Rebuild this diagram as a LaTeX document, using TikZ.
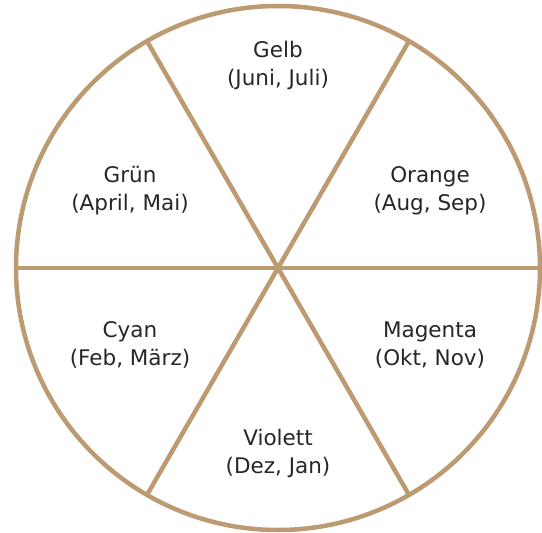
\documentclass[tikz,border=0pt]{standalone}
\usepackage{fontspec}
\setmainfont{DejaVu Sans}
\definecolor{rim}{HTML}{BC9A72}
\begin{document}
\begin{tikzpicture}[x=1pt,y=-1pt,
  rimline/.style={draw=rim,line width=4.5pt},
  lbl/.style={align=center,font=\fontsize{21.5}{28}\selectfont,text=black!85}]
\useasboundingbox (0,0) rectangle (542,533);
\coordinate (c) at (278,268);
\draw[rimline] (c) circle[radius=262];
\path (c) ++(0:262) coordinate (a0);
\path (c) ++(180:262) coordinate (a180);
\path (c) ++(60:262) coordinate (a60);
\path (c) ++(120:262) coordinate (a120);
\path (c) ++(240:262) coordinate (a240);
\path (c) ++(300:262) coordinate (a300);
\draw[rimline] (a0) -- (a180);
\draw[rimline] (a60) -- (a240);
\draw[rimline] (a120) -- (a300);
\node[lbl] (gelb) at (278,65) {Gelb\\(Juni, Juli)};
\node[lbl] (orange) at (430,191) {Orange\\(Aug, Sep)};
\node[lbl] (gruen) at (130,191) {Grün\\(April, Mai)};
\node[lbl] (cyan) at (130,345) {Cyan\\(Feb, März)};
\node[lbl] (magenta) at (430,345) {Magenta\\(Okt, Nov)};
\node[lbl] (violett) at (278,453) {Violett\\(Dez, Jan)};
\end{tikzpicture}
\end{document}
